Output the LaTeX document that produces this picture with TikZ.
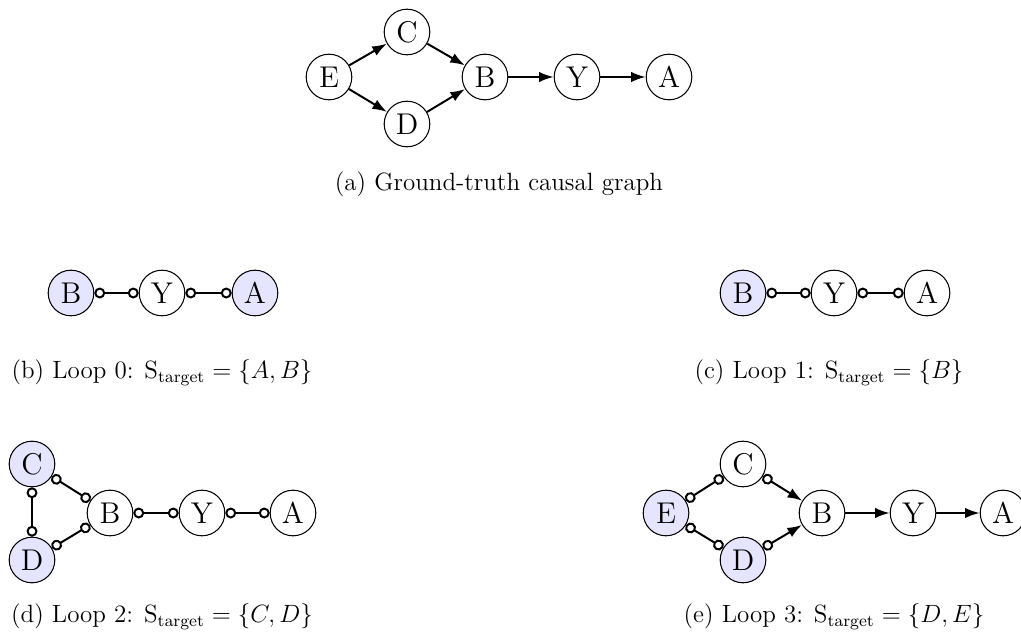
\documentclass[tikz,border=0pt]{standalone}
\usepackage{amsmath,amssymb}
\usepackage{xcolor}
\usepackage{tikz}
\usetikzlibrary{arrows.meta}

\tikzset{
  var/.style={circle,draw,line width=0.5pt,minimum size=21.9pt,inner sep=0pt,font=\Large},
  tgt/.style={var,fill=blue!10},
  dir/.style={line width=0.95pt,-{Latex[length=7pt,width=5pt]}},
  circcirc/.style={line width=0.95pt,{Circle[open,length=5.2pt,width=5.2pt]}-{Circle[open,length=5.2pt,width=5.2pt]}},
  circdir/.style={line width=0.95pt,{Circle[open,length=5.2pt,width=5.2pt]}-{Latex[length=7pt,width=5pt]}},
  subcap/.style={font=\fontsize{12}{14.5}\selectfont}
}

\begin{document}
\begin{tikzpicture}[x=0.48pt,y=-0.48pt]
        \useasboundingbox (0,0) rectangle (1021,633);
        % (a) ground truth
        \node[var] (aE) at (329,77) {E};
        \node[var] (aC) at (407,32) {C};
        \node[var] (aD) at (407,124) {D};
        \node[var] (aB) at (485,77) {B};
        \node[var] (aY) at (577,77) {Y};
        \node[var] (aA) at (669,77) {A};
        \draw[dir] (aE) -- (aC);
        \draw[dir] (aE) -- (aD);
        \draw[dir] (aC) -- (aB);
        \draw[dir] (aD) -- (aB);
        \draw[dir] (aB) -- (aY);
        \draw[dir] (aY) -- (aA);
        \node[subcap] (capa) at (499,184) {(a) Ground-truth causal graph};
        % (b) loop 0
        \node[tgt] (bB) at (71,293) {B};
        \node[var] (bY) at (162,293) {Y};
        \node[tgt] (bA) at (255,293) {A};
        \draw[circcirc] (bB) -- (bY);
        \draw[circcirc] (bY) -- (bA);
        \node[subcap] (capb) at (162,373) {(b) Loop 0: $\mathrm{S}_{\mathrm{target}}=\{A,B\}$};
        % (c) loop 1
        \node[tgt] (cB) at (743,293) {B};
        \node[var] (cY) at (834,293) {Y};
        \node[var] (cA) at (927,293) {A};
        \draw[circcirc] (cB) -- (cY);
        \draw[circcirc] (cY) -- (cA);
        \node[subcap] (capc) at (829,373) {(c) Loop 1: $\mathrm{S}_{\mathrm{target}}=\{B\}$};
        % (d) loop 2
        \node[tgt] (dC) at (32,464) {C};
        \node[tgt] (dD) at (32,560) {D};
        \node[var] (dB) at (110,513) {B};
        \node[var] (dY) at (202,513) {Y};
        \node[var] (dA) at (293,513) {A};
        \draw[circcirc] (dC) -- (dD);
        \draw[circcirc] (dC) -- (dB);
        \draw[circcirc] (dD) -- (dB);
        \draw[circcirc] (dB) -- (dY);
        \draw[circcirc] (dY) -- (dA);
        \node[subcap] (capd) at (162,617) {(d) Loop 2: $\mathrm{S}_{\mathrm{target}}=\{C,D\}$};
        % (e) loop 3
        \node[tgt] (eE) at (666,513) {E};
        \node[var] (eC) at (743,464) {C};
        \node[tgt] (eD) at (743,560) {D};
        \node[var] (eB) at (822,513) {B};
        \node[var] (eY) at (913,513) {Y};
        \node[var] (eA) at (1003,513) {A};
        \draw[circcirc] (eE) -- (eC);
        \draw[circcirc] (eE) -- (eD);
        \draw[circdir] (eC) -- (eB);
        \draw[circdir] (eD) -- (eB);
        \draw[dir] (eB) -- (eY);
        \draw[dir] (eY) -- (eA);
        \node[subcap] (cape) at (834,617) {(e) Loop 3: $\mathrm{S}_{\mathrm{target}}=\{D,E\}$};
\end{tikzpicture}
\end{document}
